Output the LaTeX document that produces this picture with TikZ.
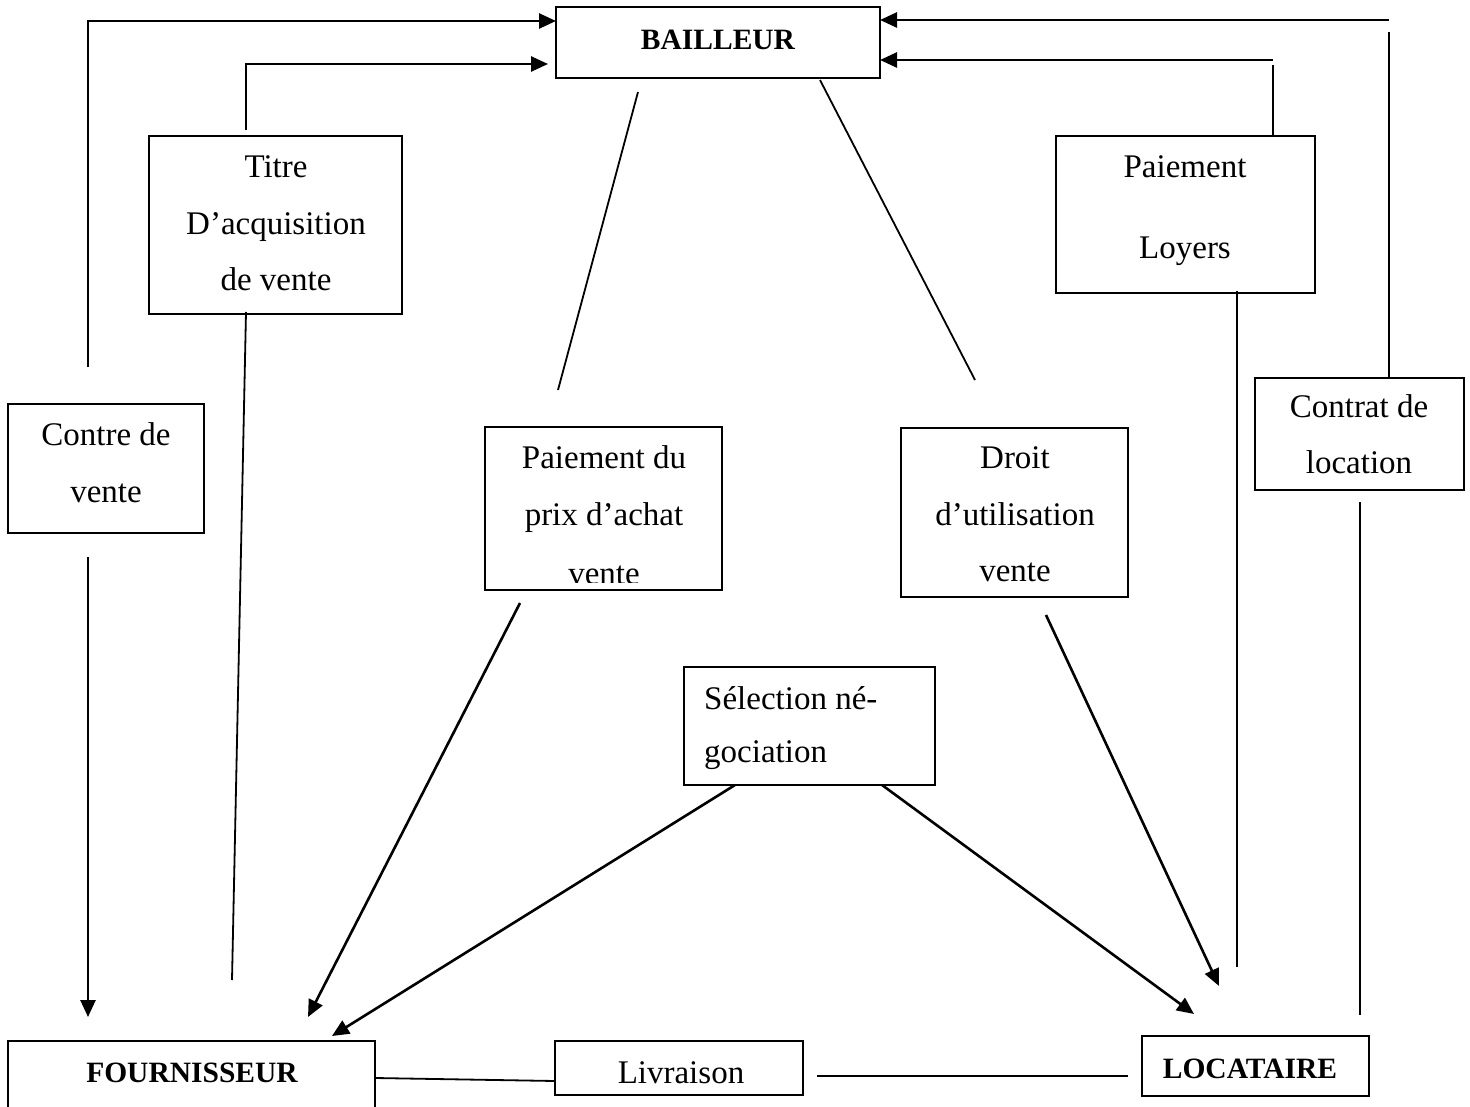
\documentclass[tikz,border=0pt]{standalone}
\usepackage{fontspec}
\setmainfont{Liberation Serif}
\usetikzlibrary{arrows.meta,calc}
\begin{document}
\begin{tikzpicture}[x=1pt,y=-1pt,
  box/.style 2 args={draw, line width=2pt, minimum width=#1pt, minimum height=#2pt, inner sep=0pt, outer sep=0pt},
  txt/.style={font=\fontsize{33}{38}\selectfont, anchor=base, inner sep=0pt},
  btxt/.style={font=\fontsize{29.5}{35}\selectfont\bfseries, anchor=base, inner sep=0pt},
  ln/.style={line width=1.8pt},
  arr/.style={line width=2.6pt, -{Triangle[length=17pt,width=15pt]}}]
\useasboundingbox (0,0) rectangle (1470,1107);
\fill[white] (0,0) rectangle (1470,1107);

% boxes
\node[box={324}{71}]  (bailleur) at (718,42.5) {};
\node[box={253}{178}] (titre)    at (275.5,225) {};
\node[box={196}{129}] (contre)   at (106,468.5) {};
\node[box={237}{163}] (paiprix)  at (603.5,508.5) {};
\node[box={227}{169}] (droit)    at (1014.5,512.5) {};
\node[box={251}{118}] (select)   at (809.5,726) {};
\node[box={259}{157}] (loyers)   at (1185.5,214.5) {};
\node[box={209}{112}] (contrat)  at (1359.5,434) {};
\node[box={367}{79}]  (fourn)    at (191.5,1080.5) {};
\node[box={248}{54}]  (livr)     at (679,1068) {};
\node[box={227}{60}]  (locat)    at (1255.5,1066) {};

% texts
\node[btxt] (t-bailleur) at (718,50) {BAILLEUR};
\node[btxt] (t-fourn) at (192,1082) {FOURNISSEUR};
\node[btxt] (t-locat) at (1250,1078) {LOCATAIRE};
\node[txt] (t-livr) at (681,1083) {Livraison};

\node[txt] (t-titre1) at (276,178) {Titre};
\node[txt] (t-titre2) at (276,235) {D’acquisition};
\node[txt] (t-titre3) at (276,291) {de vente};

\node[txt] (t-contre1) at (106,445) {Contre de};
\node[txt] (t-contre2) at (106,502) {vente};

\begin{scope}
\clip (486,428) rectangle (721,582);
\node[txt] (t-prix1) at (604,468) {Paiement du};
\node[txt] (t-prix2) at (604,525) {prix d’achat};
\node[txt] (t-prix3) at (604,584) {vente};
\end{scope}

\node[txt] (t-droit1) at (1015,468) {Droit};
\node[txt] (t-droit2) at (1015,525) {d’utilisation};
\node[txt] (t-droit3) at (1015,581) {vente};

\node[txt, anchor=base west] (t-sel1) at (704,709) {Sélection né-};
\node[txt, anchor=base west] (t-sel2) at (704,762) {gociation};

\node[txt] (t-loy1) at (1185,178) {Paiement};
\node[txt] (t-loy2) at (1185,259) {Loyers};

\node[txt] (t-con1) at (1359,417) {Contrat de};
\node[txt] (t-con2) at (1359,473) {location};

% free ends
\coordinate (cL)  at (88,367);
\coordinate (cT)  at (246,130);
\coordinate (cR1) at (1389,20);
\coordinate (cR1v) at (1389,32);
\coordinate (cR2) at (1273,60);
\coordinate (cR2v) at (1273,65);
\coordinate (bA) at (638,92);
\coordinate (bAe) at (558,390);
\coordinate (bB) at (820,80);
\coordinate (bBe) at (975,380);
\coordinate (tD) at (246,312);
\coordinate (tDe) at (232,980);
\coordinate (cC) at (88,557);
\coordinate (cCe) at (88,1017);
\coordinate (pS) at (520,603);
\coordinate (pE) at (308,1017);
\coordinate (sS1) at (735,785);
\coordinate (sE1) at (332,1036);
\coordinate (sS2) at (882,785);
\coordinate (sE2) at (1194,1014);
\coordinate (dS) at (1046,615);
\coordinate (dE) at (1219,986);
\coordinate (lS) at (1237,291);
\coordinate (lE) at (1237,967);
\coordinate (kS) at (1360,502);
\coordinate (kE) at (1360,1015);
\coordinate (vS) at (817,1076);
\coordinate (vE) at (1128,1076);

% top connectors
\draw[arr] (cL) |- ($(bailleur.north west)+(0,14)$);
\draw[arr] (cT) |- ($(bailleur.north west)+(-8,57)$);
\draw[arr] (cR1) -- ($(bailleur.north east)+(0,13)$);
\draw[ln] (cR1v) -- ($(contrat.north west)+(134,0)$);
\draw[arr] (cR2) -- ($(bailleur.north east)+(0,53)$);
\draw[ln] (cR2v) -- ($(loyers.north west)+(217,0)$);

% lines from bailleur
\draw[ln] (bA) -- (bAe);
\draw[ln] (bB) -- (bBe);

% left side
\draw[ln] (tD) -- (tDe);
\draw[arr] (cC) -- (cCe);

% to fournisseur
\draw[arr] (pS) -- (pE);
\draw[arr] (sS1) -- (sE1);

% to locataire
\draw[arr] (sS2) -- (sE2);
\draw[arr] (dS) -- (dE);
\draw[ln] (lS) -- (lE);
\draw[ln] (kS) -- (kE);

% bottom
\draw[ln] (fourn.east |- 0,1078) -- (livr.west |- 0,1081);
\draw[ln] (vS) -- (vE);
\end{tikzpicture}
\end{document}
